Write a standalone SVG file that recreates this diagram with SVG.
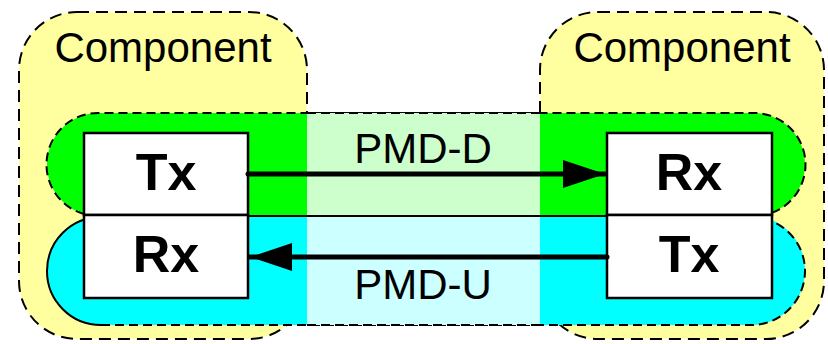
<svg xmlns="http://www.w3.org/2000/svg" width="828" height="344" viewBox="0 0 828 344">
<style>
.comp{fill:#ffffa0;stroke:#000;stroke-width:2;stroke-dasharray:12,7}
.lbl{font-family:"Liberation Sans",Arial,sans-serif;font-size:42px;fill:#000;text-anchor:middle}
.big{font-family:"Liberation Sans",Arial,sans-serif;font-size:52px;font-weight:bold;fill:#000;text-anchor:middle}
.box{fill:#fff;stroke:#000;stroke-width:2.5}
.dash{fill:none;stroke:#000;stroke-width:2;stroke-dasharray:9,5}
.conn{stroke:#000;stroke-width:5;fill:none;stroke-linecap:round}
</style>
<defs>
<marker id="ah" markerWidth="44" markerHeight="28" refX="42" refY="14" orient="auto" markerUnits="userSpaceOnUse">
<path d="M0,0 L42,14 L0,28 Z" fill="#000"/>
</marker>
</defs>
<g id="component-left">
<rect class="comp" x="19" y="12" width="288" height="327" rx="58"/>
<text class="lbl" x="163" y="62">Component</text>
</g>
<g id="component-right">
<rect class="comp" x="540" y="12" width="284" height="327" rx="58"/>
<text class="lbl" x="682" y="62">Component</text>
</g>
<g id="band-pmd-d">
<rect x="47" y="113" width="758" height="103" rx="51.5" fill="#00ff00"/>
<path class="dash" d="M98,216 A51.5,51.5 0 0 1 98,113 L754,113 A51.5,51.5 0 0 1 754,216" stroke-dasharray="6,3"/>
<rect x="307" y="113" width="233" height="103" fill="#ccffcc"/>
<line x1="307" y1="113" x2="540" y2="113" class="dash"/>
</g>
<g id="band-pmd-u">
<rect x="47" y="216" width="758" height="109" rx="54" fill="#00ffff"/>
<path d="M101,325 A54,54 0 0 1 101,217" fill="none" stroke="#000" stroke-width="2"/>
<path class="dash" d="M101,325 L751,325 A54,54 0 0 0 751,217"/>
<rect x="307" y="216" width="233" height="109" fill="#ccffff"/>
<line x1="307" y1="325" x2="540" y2="325" class="dash"/>
<line x1="248" y1="216" x2="607" y2="216" stroke="#000" stroke-width="2"/>
</g>
<g id="left-tx">
<rect class="box" x="84" y="133" width="164" height="82"/>
<text class="big" x="166" y="190">Tx</text>
</g>
<g id="left-rx">
<rect class="box" x="84" y="215" width="164" height="83"/>
<text class="big" x="166" y="272">Rx</text>
</g>
<g id="right-rx">
<rect class="box" x="607" y="133" width="165" height="82"/>
<text class="big" x="689" y="190">Rx</text>
</g>
<g id="right-tx">
<rect class="box" x="607" y="215" width="165" height="83"/>
<text class="big" x="689" y="272">Tx</text>
</g>
<g id="connectors">
<line class="conn" x1="248" y1="174" x2="605" y2="174" marker-end="url(#ah)"/>
<line class="conn" x1="607" y1="257" x2="250" y2="257" marker-end="url(#ah)"/>
<text class="lbl" x="423" y="163">PMD-D</text>
<text class="lbl" x="423" y="299">PMD-U</text>
</g>
</svg>
